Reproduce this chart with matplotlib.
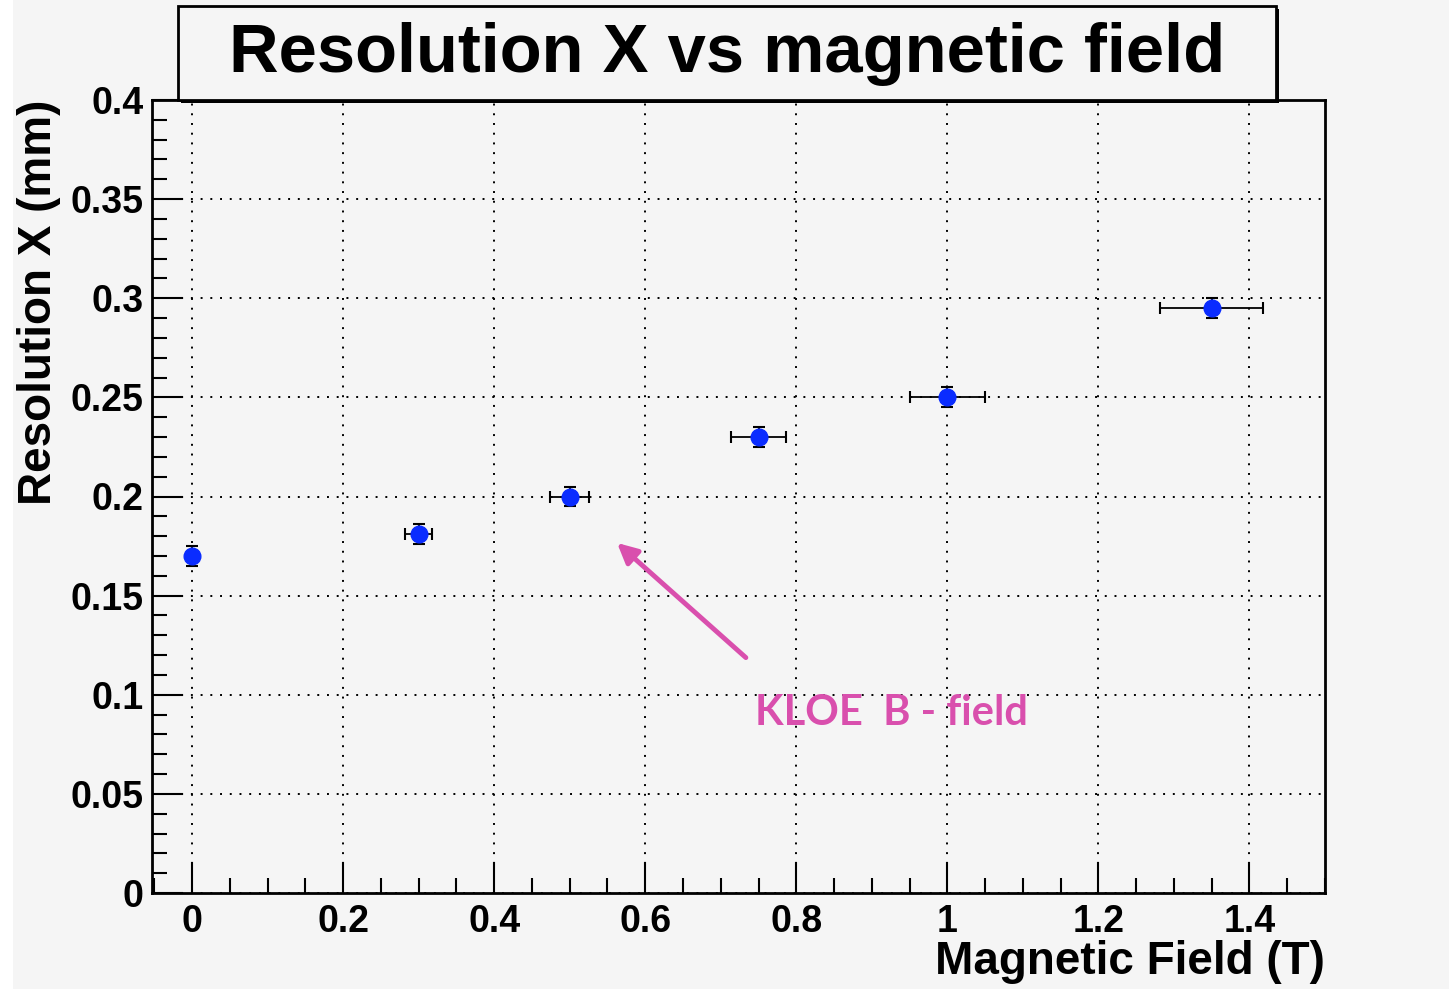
import numpy as np
import matplotlib.pyplot as plt
from matplotlib.ticker import MultipleLocator
from matplotlib.patches import Rectangle

# data
field = [0.0, 0.3, 0.5, 0.75, 1.0, 1.35]
resolution = [0.170, 0.181, 0.200, 0.230, 0.250, 0.295]
field_err = [0.004, 0.018, 0.026, 0.037, 0.05, 0.068]
res_err = [0.005, 0.005, 0.005, 0.005, 0.005, 0.005]

bg = '#f5f5f5'
plt.rcParams['font.family'] = ['Liberation Sans', 'DejaVu Sans']
plt.rcParams['font.weight'] = 'bold'

fig = plt.figure(figsize=(14.49, 9.89), dpi=100, facecolor='white')
fig.patches.append(Rectangle((13/1449, 0), 1, 1, transform=fig.transFigure,
                             facecolor=bg, edgecolor='none', zorder=-10))
ax = fig.add_axes([152/1449, 96/989, (1325-152)/1449, (893-100)/989])
ax.set_facecolor(bg)

ax.errorbar(field, resolution, xerr=field_err, yerr=res_err, fmt='o', color='#0a2cff',
            ms=12, ecolor='black', elinewidth=1.3, capsize=4, capthick=1.5, zorder=3)

ax.set_xlim(-0.053, 1.50)
ax.set_ylim(0, 0.4)
ax.xaxis.set_major_locator(MultipleLocator(0.2))
ax.xaxis.set_minor_locator(MultipleLocator(0.05))
ax.yaxis.set_major_locator(MultipleLocator(0.05))
ax.yaxis.set_minor_locator(MultipleLocator(0.01))
ax.xaxis.set_major_formatter(plt.FuncFormatter(lambda v, p: '%g' % round(v, 3)))
ax.yaxis.set_major_formatter(plt.FuncFormatter(lambda v, p: '%g' % round(v, 3)))
ax.tick_params(which='both', direction='in', top=False, right=False, labelsize=27, width=1.5)
ax.tick_params(which='major', length=22)
ax.tick_params(which='minor', length=11)
ax.tick_params(axis='x', pad=8)
ax.tick_params(axis='y', pad=6)
ax.grid(True, which='major', color='black', linestyle=(0, (1, 4)), linewidth=1.4)
for s in ax.spines.values():
    s.set_linewidth(2)

ax.set_xlabel('Magnetic Field (T)', fontsize=33, fontweight='bold', loc='right', labelpad=0)
ax.set_ylabel('Resolution X (mm)', fontsize=33, fontweight='bold', loc='top')
ax.yaxis.set_label_coords(-0.078, 1.0)

# title box with a little shadow, ROOT style
fig.patches.append(Rectangle((181/1449, 1 - 103/989), (1276-178)/1449, 94/989,
                             transform=fig.transFigure, facecolor='black',
                             edgecolor='none', zorder=4))
fig.patches.append(Rectangle((178/1449, 1 - 100/989), (1276-178)/1449, 94/989,
                             transform=fig.transFigure, facecolor=bg,
                             edgecolor='black', linewidth=2, zorder=5))
fig.text((178+1276)/2/1449, 1 - 54/989, 'Resolution X vs magnetic field',
         fontsize=49.5, fontweight='bold', ha='center', va='center', zorder=6)

pink = '#d94fad'
ax.annotate('', xy=(0.56, 0.1775), xytext=(0.736, 0.1178),
            arrowprops=dict(arrowstyle='-|>', color=pink, lw=3.5, mutation_scale=30))
ax.text(0.746, 0.091, 'KLOE  B - field', color=pink, fontsize=30, fontweight='bold',
        family=['Lato', 'DejaVu Sans'], ha='left', va='center')

fig.savefig('out.png', dpi=100, facecolor='white')
